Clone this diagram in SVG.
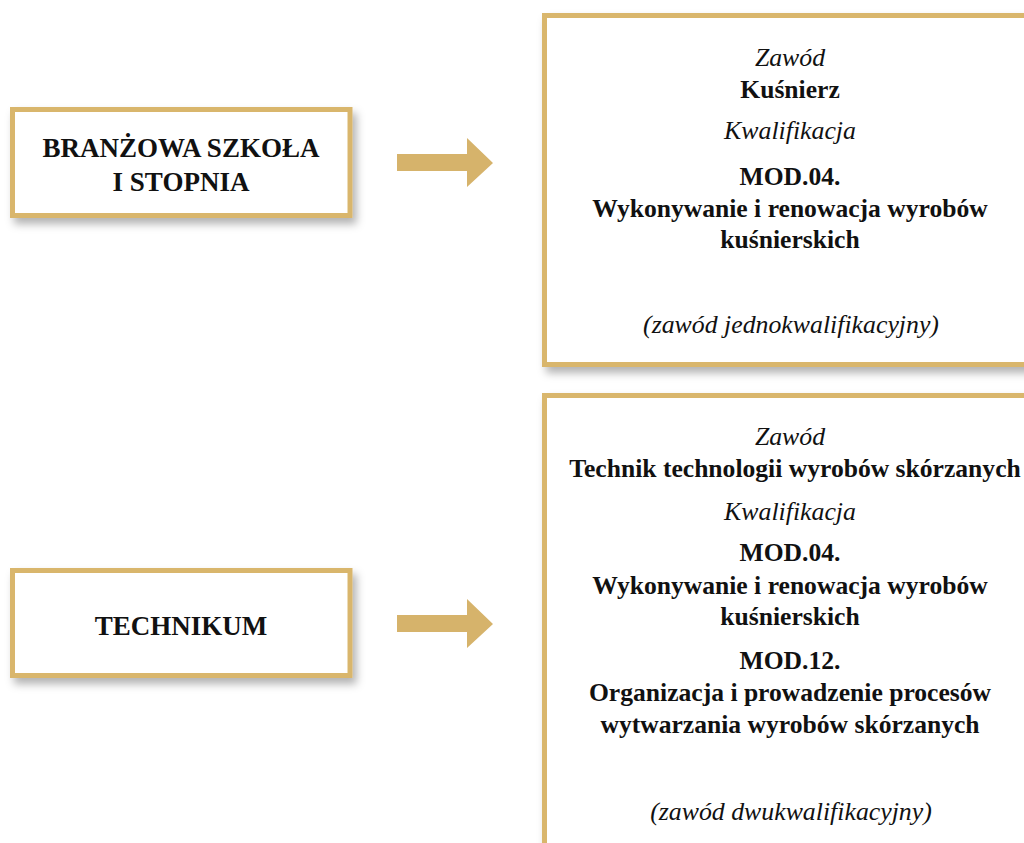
<svg xmlns="http://www.w3.org/2000/svg" width="1024" height="843" viewBox="0 0 1024 843">
<defs>
<filter id="sh" x="-10%" y="-10%" width="130%" height="140%">
<feDropShadow dx="4" dy="6" stdDeviation="4" flood-color="#000" flood-opacity="0.3"/>
</filter>
</defs>
<style>
.box{fill:#fff;stroke:#D9B66C;stroke-width:5;filter:url(#sh)}
.arr{fill:#D6B36B}
text{font-family:"Liberation Serif","Times New Roman",serif;fill:#111;text-anchor:middle}
.b{font-weight:bold;font-size:25.6px}
.i{font-style:italic;font-size:25.8px}
.L{font-weight:bold;font-size:27px}
</style>
<rect width="1024" height="843" fill="#fff"/>
<g id="connectors">
<path class="arr" d="M397,154 H467 V138 L493,163 L467,187 V171 H397 Z"/>
<path class="arr" d="M397,615 H467 V599 L493,624 L467,648 V632 H397 Z"/>
</g>
<g id="node-branzowa">
<rect class="box" x="12.5" y="109.5" width="337.5" height="106"/>
<text class="L" x="181" y="157">BRANŻOWA SZKOŁA</text>
<text class="L" x="181" y="191">I STOPNIA</text>
</g>
<g id="node-technikum">
<rect class="box" x="12.5" y="570.5" width="337.5" height="105"/>
<text class="L" x="181" y="635">TECHNIKUM</text>
</g>
<g id="node-kusnierz">
<rect class="box" x="544.5" y="15.5" width="500" height="349"/>
<text class="i" x="790" y="66">Zawód</text>
<text class="b" x="790" y="98">Kuśnierz</text>
<text class="i" x="790" y="139">Kwalifikacja</text>
<text class="b" x="790" y="185">MOD.04.</text>
<text class="b" x="790" y="217">Wykonywanie i renowacja wyrobów</text>
<text class="b" x="790" y="248">kuśnierskich</text>
<text class="i" x="791" y="333">(zawód jednokwalifikacyjny)</text>
</g>
<g id="node-technik">
<rect class="box" x="544.5" y="395.5" width="500" height="470"/>
<text class="i" x="790" y="445">Zawód</text>
<text class="b" x="795" y="477">Technik technologii wyrobów skórzanych</text>
<text class="i" x="790" y="520">Kwalifikacja</text>
<text class="b" x="790" y="561">MOD.04.</text>
<text class="b" x="790" y="594">Wykonywanie i renowacja wyrobów</text>
<text class="b" x="790" y="625">kuśnierskich</text>
<text class="b" x="790" y="669">MOD.12.</text>
<text class="b" x="790" y="701">Organizacja i prowadzenie procesów</text>
<text class="b" x="790" y="733">wytwarzania wyrobów skórzanych</text>
<text class="i" x="791" y="820">(zawód dwukwalifikacyjny)</text>
</g>
</svg>
